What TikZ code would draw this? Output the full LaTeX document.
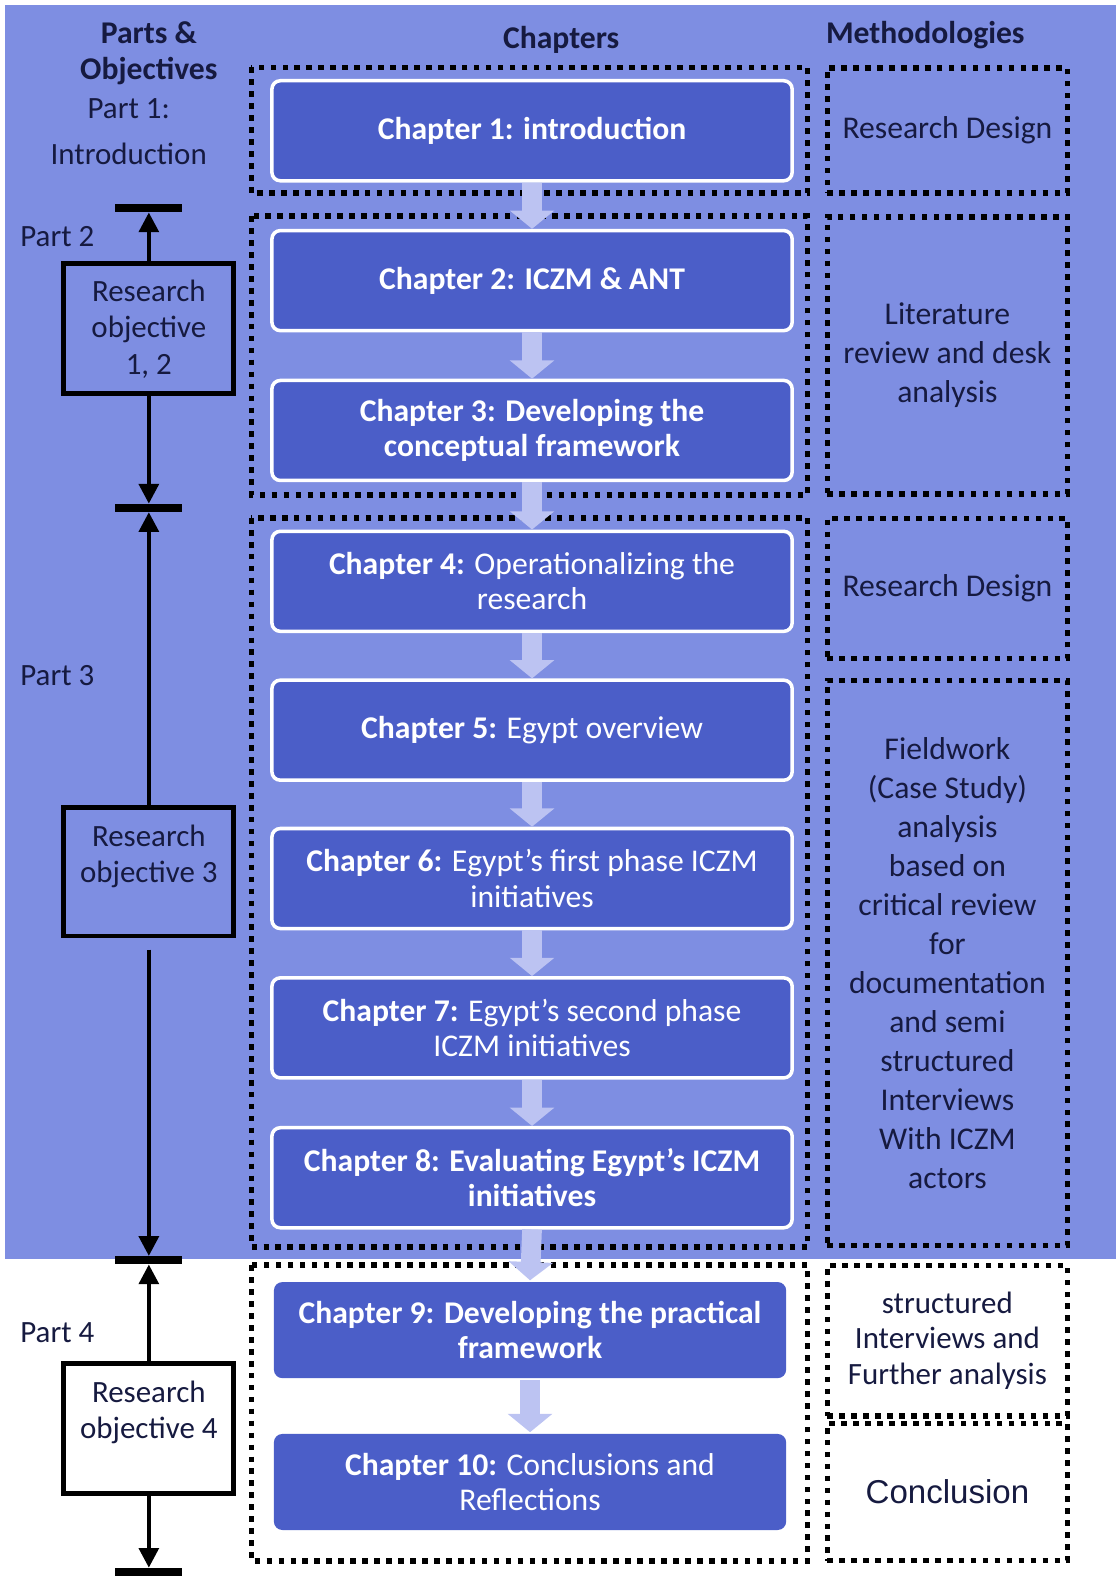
\documentclass[tikz,border=0pt]{standalone}
\usepackage{fontspec}
\setmainfont{Carlito}
\newfontfamily\arialfont{Liberation Sans}
\usetikzlibrary{arrows.meta}
\definecolor{bgblue}{HTML}{7E8EE2}
\definecolor{chblue}{HTML}{4B5EC8}
\definecolor{flowblue}{HTML}{BCC3F2}
\definecolor{inkblue}{HTML}{161A40}

\begin{document}
\begin{tikzpicture}[
    x=0.025125cm, y=-0.025125cm,
    chapter/.style={draw=white, line width=2.5pt, rounded corners=6pt, fill=chblue, text=white, minimum width=13cm, minimum height=2.5cm, align=center, font=\fontsize{22.5}{25}\selectfont},
    chapterlow/.style={chapter, draw=none, minimum width=12.8cm, minimum height=2.4cm},
    flow/.style={draw=flowblue, line width=14pt, -{Triangle[width=31pt,length=13pt]}},
    grp/.style={draw=black, line width=4pt, dash pattern=on 4pt off 4.5pt},
    method/.style={grp, minimum width=6cm, align=center, text=inkblue, font=\fontsize{22.5}{27.7}\selectfont},
    objbox/.style={draw=black, line width=3.5pt, minimum width=4.25cm, minimum height=3.25cm, align=center, text=inkblue, font=\fontsize{22}{26}\selectfont},
    bar/.style={fill=black, minimum width=1.675cm, minimum height=0.2cm, inner sep=0pt},
    link/.style={draw=black, line width=2.8pt, -{Triangle[width=14pt,length=14pt]}},
    part/.style={text=inkblue, font=\fontsize{22}{33}\selectfont, align=center},
    head/.style={text=inkblue, font=\bfseries\fontsize{22.5}{26}\selectfont, align=center}
]

    \useasboundingbox (0,0) rectangle (1111,1568);

    % Background
    \fill[bgblue] (5,5) rectangle (1110,1252);

    % Headings
    \node[head] (hparts) at (148,53) {Parts \&\\Objectives};
    \node[head] (hchap) at (558,40) {Chapters};
    \node[head] (hmeth) at (920,35) {Methodologies};

    % Chapter groups
    \draw[grp] (250,67) rectangle (803,192);
    \draw[grp] (250,215) rectangle (803,492);
    \draw[grp] (250,515) rectangle (803,1240);
    \draw[grp] (250,1258) rectangle (803,1552);

    % Methodologies
    \node[method, minimum height=3.125cm] (m1) at (942,129.5) {Research Design};
    \node[method, minimum height=6.925cm] (m2) at (942,353.5) {Literature\\review and desk\\analysis};
    \node[method, minimum height=3.5cm] (m3) at (942,585) {Research Design};
    \node[method, minimum height=14.125cm] (m4) at (942,957.5) {Fieldwork\\(Case Study)\\analysis\\based on\\critical review\\for\\documentation\\and semi\\structured\\Interviews\\With ICZM\\actors};
    \node[method, minimum height=3.75cm, font=\fontsize{22}{25}\selectfont] (m5) at (942,1333) {structured\\Interviews and\\Further analysis};
    \node[method, minimum height=3.425cm, font=\arialfont\fontsize{23.5}{26}\selectfont] (m6) at (942,1483.5) {Conclusion};

    % Chapters
    \node[chapter] (ch1) at (529,130) {\textbf{Chapter 1: introduction}};
    \node[chapter] (ch2) at (529,279) {\textbf{Chapter 2: ICZM \& ANT}};
    \node[chapter] (ch3) at (529,428) {\textbf{Chapter 3: Developing the}\\\textbf{conceptual framework}};
    \node[chapter] (ch4) at (529,578) {\textbf{Chapter 4:} Operationalizing the\\research};
    \node[chapter] (ch5) at (529,726) {\textbf{Chapter 5:} Egypt overview};
    \node[chapter] (ch6) at (529,873.5) {\textbf{Chapter 6:} Egypt’s first phase ICZM\\initiatives};
    \node[chapter] (ch7) at (529,1022) {\textbf{Chapter 7:} Egypt’s second phase\\ICZM initiatives};
    \node[chapter] (ch8) at (529,1171) {\textbf{Chapter 8: Evaluating Egypt’s ICZM}\\\textbf{initiatives}};
    \node[chapterlow] (ch9) at (527,1322.5) {\textbf{Chapter 9: Developing the practical}\\\textbf{framework}};
    \node[chapterlow] (ch10) at (527,1473.5) {\textbf{Chapter 10:} Conclusions and\\Reflections};

    \draw[flow] (ch1.south) -- (ch2.north);
    \draw[flow] (ch2.south) -- (ch3.north);
    \draw[flow] (ch3.south) -- (ch4.north);
    \draw[flow] (ch4.south) -- (ch5.north);
    \draw[flow] (ch5.south) -- (ch6.north);
    \draw[flow] (ch6.south) -- (ch7.north);
    \draw[flow] (ch7.south) -- (ch8.north);
    \draw[flow] (ch8.south) -- (ch9.north);
    \draw[flow] (ch9.south) -- (ch10.north);

    % Parts and objectives
    \node[part] (p1) at (128,131) {Part 1:\\Introduction};
    \node[part] (p2) at (57,235) {Part 2};
    \node[part] (p3) at (57,672) {Part 3};
    \node[part] (p4) at (57,1325) {Part 4};

    \node[bar] (bar1) at (148,207) {};
    \node[bar] (bar2) at (148,505) {};
    \node[bar] (bar3) at (148,1253) {};
    \node[bar] (bar4) at (148,1563) {};

    \node[objbox] (ro12) at (148,327) {Research\\objective\\1, 2};
    \node[objbox, minimum height=3.2cm] (ro3) at (148,867) {Research\\objective 3\\~};
    \node[objbox, fill=white, minimum height=3.25cm] (ro4) at (148,1420) {Research\\objective 4\\~};

    \draw[link] (ro12.north) -- (bar1.south);
    \draw[link] (ro12.south) -- (bar2.north);
    \draw[link] (ro3.north) -- (bar2.south);
    \draw[link, shorten <=8pt] (ro3.south) -- (bar3.north);
    \draw[link] (ro4.north) -- (bar3.south);
    \draw[link] (ro4.south) -- (bar4.north);

\end{tikzpicture}
\end{document}
